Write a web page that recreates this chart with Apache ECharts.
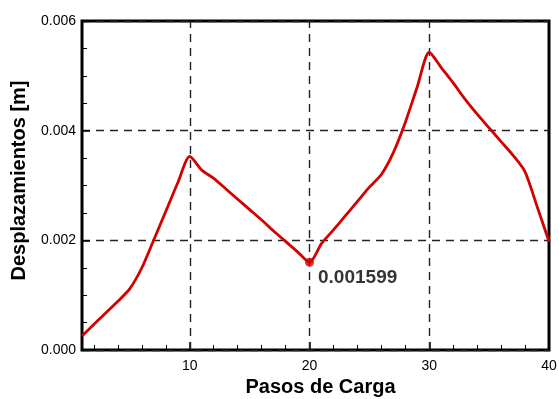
<!DOCTYPE html>
<html>
<head>
<meta charset="utf-8">
<script src="https://cdn.jsdelivr.net/npm/echarts@6/dist/echarts.min.js"></script>
<style>
  html, body { margin: 0; padding: 0; background: #fff; }
  #chart { width: 559px; height: 399px; }
</style>
</head>
<body>
<div id="chart"></div>
<script>
// Load steps 1..40 and the displacement at each step
const pasos = [
  1, 2, 3, 4, 5, 6, 7, 8, 9, 10,
  11, 12, 13, 14, 15, 16, 17, 18, 19, 20,
  21, 22, 23, 24, 25, 26, 27, 28, 29, 30,
  31, 32, 33, 34, 35, 36, 37, 38, 39, 40
];
const desplazamientos = [
  0.000255, 0.00047, 0.00068, 0.00089, 0.00112, 0.00150, 0.00201, 0.00253, 0.00305, 0.00353,
  0.00328, 0.00313, 0.00294, 0.00275, 0.00256, 0.00237, 0.00217, 0.00198, 0.00179, 0.001599,
  0.00194, 0.00219, 0.00245, 0.00271, 0.00297, 0.00320, 0.00360, 0.00415, 0.00480, 0.00543,
  0.00515, 0.00487, 0.00457, 0.00430, 0.00405, 0.00380, 0.00355, 0.00325, 0.00262, 0.00198
];
// Highlighted minimum
const puntoMin = [20, 0.001599];

// Tick positions
const xMajorTicks = [10, 20, 30, 40];
const xMinorTicks = [2, 4, 6, 8, 12, 14, 16, 18, 22, 24, 26, 28, 32, 34, 36, 38];
const xGridLines = [10, 20, 30];

const serie = pasos.map((p, i) => [p, desplazamientos[i]]);

const textColor = '#000';
const fontFam = '"Liberation Sans", Arial, sans-serif';
const dashStyle = { color: '#222', width: 1.4, type: [8, 6] };

const chart = echarts.init(document.getElementById('chart'), null, { renderer: 'canvas' });
chart.setOption({
  animation: false,
  backgroundColor: '#fff',
  grid: {
    left: 82, right: 10, top: 21, bottom: 49,
    outerBoundsMode: 'none',
    containLabel: false,
    show: true, borderColor: '#000', borderWidth: 3, backgroundColor: 'transparent'
  },
  xAxis: [
    {
      type: 'value', min: 1, max: 40,
      name: 'Pasos de Carga', nameLocation: 'middle', nameGap: 27,
      nameTextStyle: { fontFamily: fontFam, fontWeight: 'bold', fontSize: 20, color: textColor,
                       padding: [0, 0, 0, 10] },
      axisLine: { show: false },
      axisTick: { show: true, inside: true, length: 8, customValues: xMajorTicks,
                  lineStyle: { color: '#000', width: 1.5 } },
      axisLabel: { customValues: xMajorTicks, fontFamily: fontFam, fontSize: 14, color: textColor, margin: 9 },
      splitLine: { show: false }
    },
    {
      type: 'value', min: 1, max: 40, position: 'bottom',
      axisLine: { show: false },
      axisTick: { show: true, inside: true, length: 5, customValues: xMinorTicks,
                  lineStyle: { color: '#000', width: 1 } },
      axisLabel: { show: false },
      splitLine: { show: false }
    }
  ],
  yAxis: {
    type: 'value', min: 0, max: 0.006, interval: 0.002,
    name: 'Desplazamientos [m]', nameLocation: 'middle', nameGap: 53,
    nameTextStyle: { fontFamily: fontFam, fontWeight: 'bold', fontSize: 20, color: textColor,
                     padding: [0, 0, 0, 10] },
    axisLine: { show: false },
    axisTick: { show: true, inside: true, length: 8, lineStyle: { color: '#000', width: 1.5 } },
    minorTick: { show: true, splitNumber: 4, length: 5, lineStyle: { color: '#000', width: 1 } },
    axisLabel: {
      fontFamily: fontFam, fontSize: 14, color: textColor, margin: 6,
      formatter: v => v.toFixed(3)
    },
    splitLine: { show: true, lineStyle: dashStyle }
  },
  series: [
    {
      type: 'line',
      data: serie,
      smooth: 0.25,
      showSymbol: false,
      lineStyle: { color: '#d20000', width: 2.8 },
      z: 3,
      markLine: {
        silent: true,
        symbol: ['none', 'none'],
        label: { show: false },
        lineStyle: dashStyle,
        data: xGridLines.map(v => ({ xAxis: v })),
        z: 1
      }
    },
    {
      type: 'scatter',
      data: [puntoMin],
      symbol: 'circle',
      symbolSize: 9,
      itemStyle: { color: '#d20000' },
      z: 4,
      label: {
        show: true,
        position: 'right',
        distance: 4,
        offset: [0, 15],
        formatter: p => String(p.value[1]),
        fontFamily: fontFam, fontWeight: 'bold', fontSize: 19, color: '#000'
      }
    }
  ]
});
</script>
</body>
</html>
